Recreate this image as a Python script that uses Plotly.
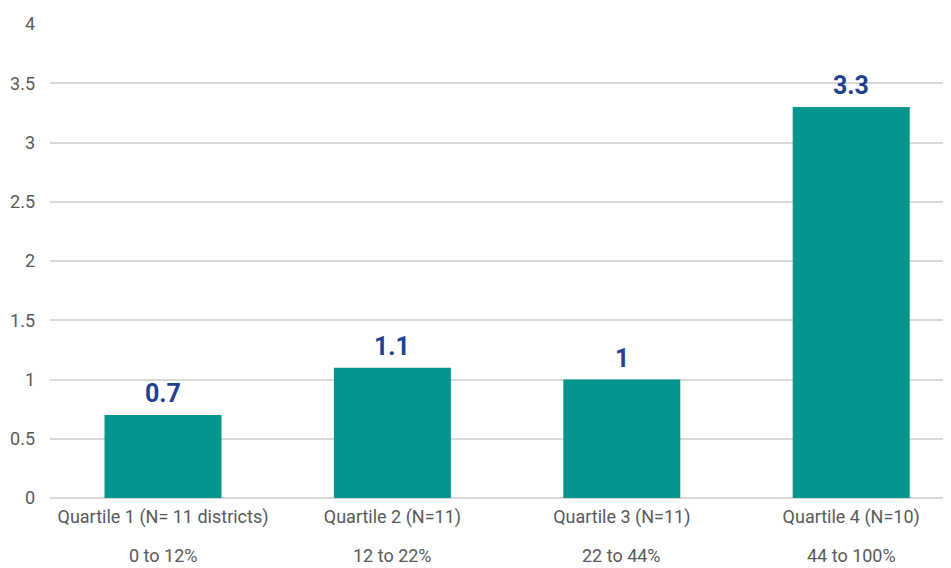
import plotly.graph_objects as go

categories = ["Quartile 1 (N= 11 districts)", "Quartile 2 (N=11)", "Quartile 3 (N=11)", "Quartile 4 (N=10)"]
ranges = ["0 to 12%", "12 to 22%", "22 to 44%", "44 to 100%"]
values = [0.7, 1.1, 1.0, 3.3]
value_labels = ["0.7", "1.1", "1", "3.3"]
y_ticks = [0, 0.5, 1, 1.5, 2, 2.5, 3, 3.5, 4]
y_tick_labels = ["0", "0.5", "1", "1.5", "2", "2.5", "3", "3.5", "4"]

FONT = "Roboto, sans-serif"
x_idx = list(range(len(categories)))

fig = go.Figure()
fig.add_trace(go.Bar(
    x=x_idx, y=values, width=0.51,
    marker=dict(color="#02968f", line=dict(width=0)),
    cliponaxis=False,
))

for i, v, t in zip(x_idx, values, value_labels):
    fig.add_annotation(x=i, y=v, xref="x", yref="y", text=t, showarrow=False,
                       yanchor="bottom", yshift=5,
                       font=dict(family=FONT, size=25, color="#233f8f", weight="bold"))

for i, r in zip(x_idx, ranges):
    fig.add_annotation(x=i, y=0, xref="x", yref="paper", text=r, showarrow=False,
                       yanchor="middle", yshift=-57,
                       font=dict(family=FONT, size=18, color="#595959"))

fig.update_layout(
    width=943, height=560,
    margin=dict(l=42, r=0, t=16, b=70),
    plot_bgcolor="white", paper_bgcolor="white",
    showlegend=False,
    font=dict(family=FONT, color="#595959"),
    xaxis=dict(tickmode="array", tickvals=x_idx, ticktext=categories,
               range=[-0.4926, 3.435], showgrid=False, zeroline=False,
               tickfont=dict(family=FONT, size=18, color="#595959"), ticks="",
               ticklabelstandoff=6),
    yaxis=dict(range=[0, 4], tickmode="array", tickvals=y_ticks, ticktext=y_tick_labels,
               showgrid=True, gridcolor="#d9d9d9", gridwidth=2,
               zeroline=True, zerolinecolor="#d9d9d9", zerolinewidth=2,
               tickfont=dict(family=FONT, size=18, color="#595959"), ticks="",
               ticklabelstandoff=14),
)

fig.write_html("out.html")
